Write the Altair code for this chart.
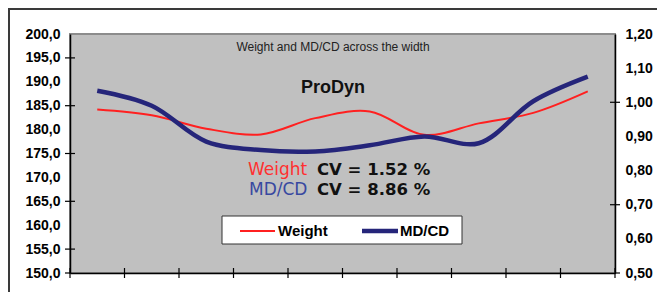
import altair as alt
import pandas as pd

# ---- data ----
positions = [1, 2, 3, 4, 5, 6, 7, 8, 9, 10]
weight = [184.2, 183.0, 180.2, 179.0, 182.4, 183.8, 178.9, 181.3, 183.5, 188.0]
mdcd = [1.034, 0.990, 0.885, 0.860, 0.856, 0.874, 0.900, 0.880, 1.003, 1.075]

left_labels = [150, 155, 160, 165, 170, 175, 180, 185, 190, 195, 200]
right_labels = [0.5, 0.6, 0.7, 0.8, 0.9, 1.0, 1.1, 1.2]
left_cross_ticks = [155, 165, 175, 185, 195]
right_cross_ticks = [0.7, 1.0]
x_ticks = [0.5, 1.5, 2.5, 3.5, 4.5, 5.5, 6.5, 7.5, 8.5, 9.5, 10.5]

title_text = "Weight and MD/CD across the width"
product = "ProDyn"
cv_weight = "CV = 1.52 %"
cv_mdcd = "CV = 8.86 %"
series = ["Weight", "MD/CD"]

W, H = 545, 239
RED = "#ff2020"
NAVY = "#25257a"

df = pd.DataFrame({"pos": positions, "weight": weight, "mdcd": mdcd})

xs = alt.Scale(domain=[0.5, 10.5], nice=False, zero=False)
yl = alt.Scale(domain=[150, 200], nice=False, zero=False)
yr = alt.Scale(domain=[0.5, 1.2], nice=False, zero=False)

label_style = dict(
    labelFont="Liberation Sans", labelFontSize=14, labelFontWeight="bold",
    labelColor="black", labelPadding=10, labelOverlap=False, labelFlush=False,
    ticks=False, grid=False, title=None, domainColor="black", domainWidth=1.5,
)
x_axis = alt.Axis(labels=False, ticks=False, grid=False, title=None,
                  domainColor="black", domainWidth=1.5)
yl_axis = alt.Axis(orient="left", values=left_labels,
                   labelExpr="replace(format(datum.value, '.1f'), '.', ',')", **label_style)
yr_axis = alt.Axis(orient="right", values=right_labels,
                   labelExpr="replace(format(datum.value, '.2f'), '.', ',')", **label_style)

weight_line = alt.Chart(df).mark_line(
    color=RED, strokeWidth=2, interpolate="catmull-rom"
).encode(
    x=alt.X("pos:Q", scale=xs, axis=x_axis),
    y=alt.Y("weight:Q", scale=yl, axis=yl_axis),
)

left_ticks = alt.Chart(pd.DataFrame({"v": left_cross_ticks})).mark_rule(
    color="black", strokeWidth=1.2
).encode(y=alt.Y("v:Q", scale=yl, axis=yl_axis), x=alt.value(-5), x2=alt.value(5))

left_bottom_tick = alt.Chart(pd.DataFrame({"v": [150]})).mark_rule(
    color="black", strokeWidth=1.2
).encode(y=alt.Y("v:Q", scale=yl, axis=yl_axis), x=alt.value(-5), x2=alt.value(0))

xt = alt.Chart(pd.DataFrame({"v": x_ticks})).mark_rule(
    color="black", strokeWidth=1.2
).encode(x=alt.X("v:Q", scale=xs, axis=x_axis), y=alt.value(H - 5), y2=alt.value(H + 5))

left_core = alt.layer(weight_line, left_ticks, left_bottom_tick, xt)

md_line = alt.Chart(df).mark_line(
    color=NAVY, strokeWidth=4.5, interpolate="catmull-rom"
).encode(
    x=alt.X("pos:Q", scale=xs, axis=x_axis),
    y=alt.Y("mdcd:Q", scale=yr, axis=yr_axis),
)

right_ticks = alt.Chart(pd.DataFrame({"v": right_cross_ticks})).mark_rule(
    color="black", strokeWidth=1.2
).encode(y=alt.Y("v:Q", scale=yr, axis=yr_axis), x=alt.value(W - 5), x2=alt.value(W + 5))

right_bottom_tick = alt.Chart(pd.DataFrame({"v": [0.5]})).mark_rule(
    color="black", strokeWidth=1.2
).encode(y=alt.Y("v:Q", scale=yr, axis=yr_axis), x=alt.value(W), x2=alt.value(W + 5))

right_core = alt.layer(md_line, right_ticks, right_bottom_tick)


def txt(s, x, y, **kw):
    return alt.Chart(pd.DataFrame({"t": [s]})).mark_text(**kw).encode(
        text="t:N", x=alt.value(x), y=alt.value(y))


one = pd.DataFrame({"a": [0]})
frame_top = alt.Chart(one).mark_rule(color="#3a3a3a", strokeWidth=2).encode(
    x=alt.value(-62), x2=alt.value(W + 42), y=alt.value(-25))
frame_left = alt.Chart(one).mark_rule(color="#3a3a3a", strokeWidth=2).encode(
    x=alt.value(-61), y=alt.value(-26), y2=alt.value(H + 19))

legend_box = alt.Chart(one).mark_rect(fill="white", stroke="#333333", strokeWidth=1).encode(
    x=alt.value(152), x2=alt.value(392), y=alt.value(182), y2=alt.value(210))
legend_red = alt.Chart(one).mark_rule(color=RED, strokeWidth=2).encode(
    x=alt.value(170), x2=alt.value(205), y=alt.value(197))
legend_blue = alt.Chart(one).mark_rule(color=NAVY, strokeWidth=4.5).encode(
    x=alt.value(292), x2=alt.value(328), y=alt.value(197))

legend_font = dict(font="Liberation Sans", fontSize=15, fontWeight="bold", color="black",
                   align="left", baseline="middle")

annotations = alt.layer(
    frame_top, frame_left,
    txt(title_text, 263, 13, font="Liberation Sans", fontSize=12, color="#222222",
        align="center", baseline="middle"),
    txt(product, 263, 54, font="Liberation Sans", fontSize=18, fontWeight="bold",
        color="#111111", align="center", baseline="middle"),
    txt(series[0], 178, 136, font="DejaVu Sans", fontSize=17, color="#ff3030",
        align="left", baseline="middle"),
    txt(cv_weight, 247, 136, font="DejaVu Sans", fontSize=16.5, fontWeight="bold",
        color="#111111", align="left", baseline="middle"),
    txt(series[1], 179, 156, font="DejaVu Sans", fontSize=17, color="#3848a0",
        align="left", baseline="middle"),
    txt(cv_mdcd, 247, 156, font="DejaVu Sans", fontSize=16.5, fontWeight="bold",
        color="#111111", align="left", baseline="middle"),
    legend_box, legend_red, legend_blue,
    txt(series[0], 208, 197, **legend_font),
    txt(series[1], 330, 197, **legend_font),
)

chart = alt.layer(left_core, right_core, annotations).resolve_scale(
    y="independent"
).properties(
    width=W, height=H,
    autosize=alt.AutoSizeParams(type="none"),
    padding={"left": 62, "top": 26, "right": 42, "bottom": 19},
    background="white",
).configure_view(
    fill="#c0c0c0", stroke="#8c8c8c", strokeWidth=2
).configure_axis(grid=False)

chart.save("out.html", embed_options={"renderer": "svg", "actions": False})
